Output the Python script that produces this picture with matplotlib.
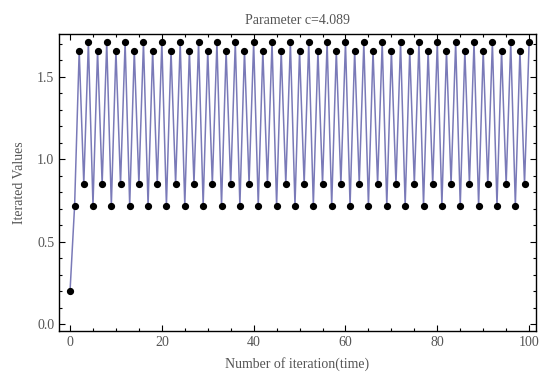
import matplotlib.pyplot as plt
from matplotlib.ticker import MultipleLocator

# iteration index and the iterated values
iterations = list(range(0, 101))
values = [
    0.20, 0.72, 1.66, 0.85, 1.71, 0.72, 1.66, 0.85, 1.71, 0.72,
    1.66, 0.85, 1.71, 0.72, 1.66, 0.85, 1.71, 0.72, 1.66, 0.85,
    1.71, 0.72, 1.66, 0.85, 1.71, 0.72, 1.66, 0.85, 1.71, 0.72,
    1.66, 0.85, 1.71, 0.72, 1.66, 0.85, 1.71, 0.72, 1.66, 0.85,
    1.71, 0.72, 1.66, 0.85, 1.71, 0.72, 1.66, 0.85, 1.71, 0.72,
    1.66, 0.85, 1.71, 0.72, 1.66, 0.85, 1.71, 0.72, 1.66, 0.85,
    1.71, 0.72, 1.66, 0.85, 1.71, 0.72, 1.66, 0.85, 1.71, 0.72,
    1.66, 0.85, 1.71, 0.72, 1.66, 0.85, 1.71, 0.72, 1.66, 0.85,
    1.71, 0.72, 1.66, 0.85, 1.71, 0.72, 1.66, 0.85, 1.71, 0.72,
    1.66, 0.85, 1.71, 0.72, 1.66, 0.85, 1.71, 0.72, 1.66, 0.85,
    1.71,
]
x_ticks = [0, 20, 40, 60, 80, 100]
y_ticks = [0.0, 0.5, 1.0, 1.5]

plt.rcParams['font.family'] = ['Liberation Serif', 'DejaVu Serif']

fig = plt.figure(figsize=(5.43, 3.91), dpi=100)
ax = fig.add_axes([59 / 543, 1 - 331 / 391, (536 - 59) / 543, (331 - 34) / 391])

ax.plot(iterations, values, color='#7a7ab8', lw=1.1, zorder=2)
ax.plot(iterations, values, 'o', color='black', ms=4.2, zorder=3)

ax.set_xlim(-2.4, 101.5)
ax.set_ylim(-0.04, 1.76)
ax.set_xticks(x_ticks)
ax.set_yticks(y_ticks)
ax.set_yticklabels([f"{v:.1f}" for v in y_ticks])
ax.xaxis.set_minor_locator(MultipleLocator(5))
ax.yaxis.set_minor_locator(MultipleLocator(0.1))
ax.tick_params(which='both', direction='in', top=True, right=True,
               labelsize=10, labelcolor='#555555', width=0.8)
ax.tick_params(which='major', length=4)
ax.tick_params(which='minor', length=2)
for s in ax.spines.values():
    s.set_linewidth(1.0)

ax.set_title('Parameter c=4.089', fontsize=10, color='#555555', pad=7)
ax.set_xlabel('Number of iteration(time)', fontsize=10, color='#555555', labelpad=6)
ax.set_ylabel('Iterated Values', fontsize=10, color='#555555', labelpad=8)

fig.savefig('out.png', dpi=100)
